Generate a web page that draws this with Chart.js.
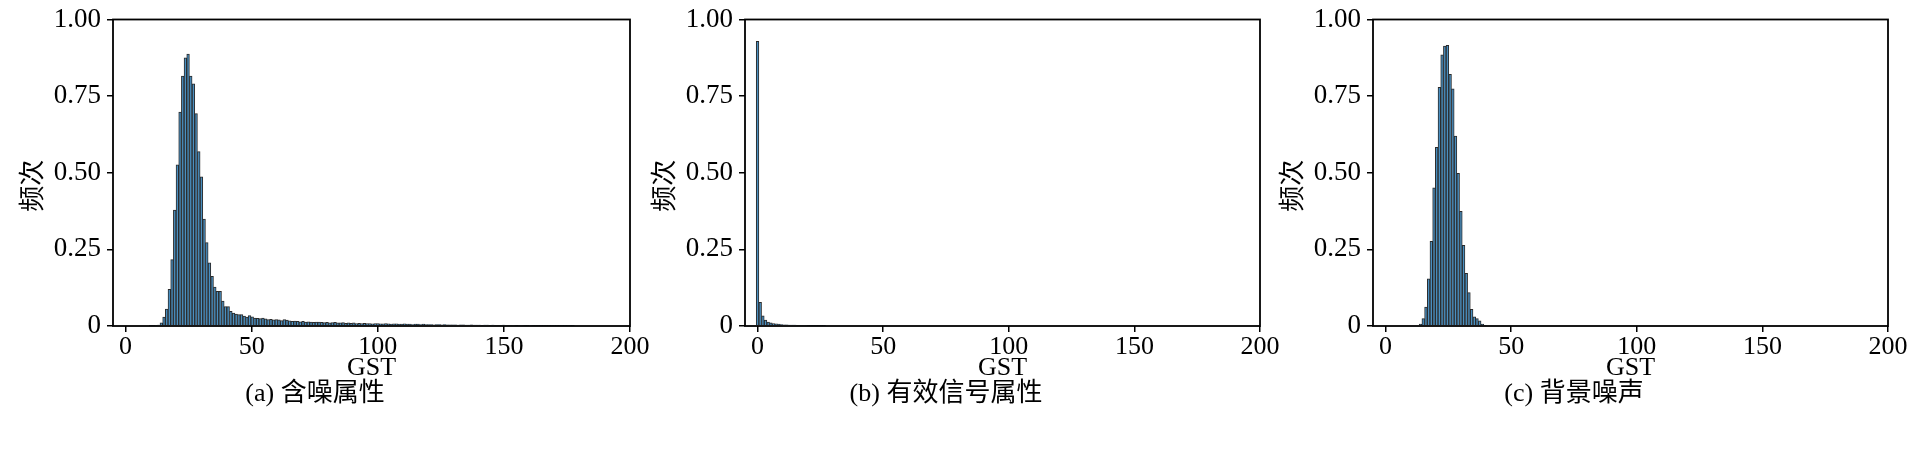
<!DOCTYPE html>
<html>
<head>
<meta charset="utf-8">
<script src="https://cdn.jsdelivr.net/npm/chart.js@4.4.1/dist/chart.umd.min.js"></script>
<style>
  html, body { margin: 0; padding: 0; background: #fff; }
  body { width: 1913px; height: 452px; position: relative; overflow: hidden; }
  canvas { position: absolute; top: 0; }
</style>
</head>
<body>
<canvas id="chartA" width="652" height="452" style="left:0px"></canvas>
<canvas id="chartB" width="650" height="452" style="left:632px"></canvas>
<canvas id="chartC" width="650" height="452" style="left:1260px"></canvas>
<script>
// ===== DATA =====
// tepi kiri bin pertama dan lebar bin (satuan GST)
const binStartA = 9.4;
const binWidthA = 1.06;
const freqA = [
  0.001, 0.001, 0.002, 0.003,
  0.010, 0.029, 0.055, 0.120, 0.217, 0.378, 0.526, 0.698, 0.815, 0.875,
  0.887, 0.815, 0.790, 0.693, 0.569, 0.487, 0.349, 0.272, 0.206, 0.162,
  0.127, 0.113, 0.113, 0.081, 0.063, 0.063, 0.048, 0.042, 0.039, 0.037,
  0.037, 0.032, 0.029, 0.034, 0.030, 0.026,
  0.025, 0.024, 0.026, 0.023, 0.021, 0.022, 0.020, 0.021,
  0.020, 0.018, 0.021, 0.019, 0.017, 0.015, 0.016, 0.015, 0.014, 0.015, 0.013,
  0.014, 0.013, 0.012, 0.013, 0.013, 0.012, 0.011, 0.012, 0.010, 0.011, 0.012, 0.010, 0.010, 0.011, 0.009,
  0.010, 0.009, 0.010, 0.008, 0.009, 0.008, 0.009, 0.008, 0.008, 0.007, 0.008, 0.008, 0.007, 0.007, 0.008, 0.007, 0.006, 0.007, 0.007, 0.006,
  0.006, 0.007, 0.006, 0.006, 0.005, 0.006, 0.006, 0.005, 0.006, 0.005, 0.005, 0.005, 0.004, 0.005, 0.005, 0.004, 0.005, 0.004, 0.004, 0.004,
  0.004, 0.003, 0.004, 0.004, 0.003, 0.003, 0.004, 0.003, 0.003, 0.003, 0.002, 0.003, 0.003, 0.002, 0.003, 0.002, 0.002, 0.002, 0.003, 0.002,
  0.002, 0.002, 0.002, 0.001, 0.002, 0.002, 0.001, 0.001, 0.002, 0.001, 0.001, 0.001, 0.001, 0.001, 0.001, 0.001, 0.001, 0.001, 0.0005, 0.001, 0.0005, 0.0005, 0.0005, 0.0005, 0.0005
];

const binStartB = -0.53;
const binWidthB = 1.06;
const freqB = [
  0.929, 0.077, 0.033, 0.019, 0.013, 0.010, 0.008, 0.007, 0.006, 0.005,
  0.004, 0.004, 0.003, 0.003, 0.003, 0.002, 0.002, 0.002, 0.002, 0.001,
  0.001, 0.001, 0.001, 0.001, 0.0005, 0.0005
];

const binStartC = 13.4;
const binWidthC = 1.07;
const freqC = [
  0.006, 0.024, 0.062, 0.154, 0.276, 0.451, 0.583, 0.779, 0.885, 0.913,
  0.916, 0.821, 0.774, 0.620, 0.498, 0.374, 0.263, 0.172, 0.109, 0.054,
  0.030, 0.024, 0.017, 0.006, 0.002
];

const xTicks = [0, 50, 100, 150, 200];
const yTicks = [0, 0.25, 0.5, 0.75, 1];
const yTickLabels = ['0', '0.25', '0.50', '0.75', '1.00'];
const xTitle = 'GST';
const yTitle = '频次';
const captions = ['(a) 含噪属性', '(b) 有效信号属性', '(c) 背景噪声'];

// ===== GAYA =====
const FONT = '"Liberation Serif", "Noto Sans CJK SC", serif';
const barFill = '#4a8fc0';
const barEdge = '#2a2a2a';

// bingkai penuh di sekeliling area plot
const framePlugin = {
  id: 'frame',
  afterDraw(chart) {
    const a = chart.chartArea;
    const ctx = chart.ctx;
    ctx.save();
    ctx.strokeStyle = '#000';
    ctx.lineWidth = 1.8;
    ctx.strokeRect(a.left, a.top, a.right - a.left, a.bottom - a.top);
    ctx.restore();
  }
};

function toPoints(start, width, values) {
  return values.map((v, i) => ({ x: start + width * (i + 0.5), y: v }));
}

function makeHist(id, start, width, values, caption) {
  const ctx = document.getElementById(id).getContext('2d');
  return new Chart(ctx, {
    type: 'bar',
    data: {
      datasets: [{
        data: toPoints(start, width, values),
        backgroundColor: barFill,
        borderColor: barEdge,
        borderWidth: 1,
        barPercentage: 1,
        categoryPercentage: 1
      }]
    },
    options: {
      responsive: false,
      animation: false,
      devicePixelRatio: 1,
      layout: {
        autoPadding: false,
        padding: { left: 0, right: 22, top: 13, bottom: 45 }
      },
      plugins: {
        legend: { display: false },
        tooltip: { enabled: false },
        title: {
          display: true,
          position: 'bottom',
          text: caption,
          color: '#000',
          font: { family: FONT, size: 26, weight: 'normal', lineHeight: 1 },
          padding: { top: 0, bottom: 0 }
        }
      },
      scales: {
        x: {
          type: 'linear',
          min: -5,
          max: 200,
          offset: false,
          afterBuildTicks: s => { s.ticks = xTicks.map(v => ({ value: v })); },
          afterFit: s => { s.height = 55; },
          grid: { offset: false, drawOnChartArea: false, drawTicks: true, tickLength: 6, color: '#000', lineWidth: 1.5 },
          border: { display: false },
          ticks: {
            color: '#000',
            padding: 2,
            maxRotation: 0,
            font: { family: FONT, size: 26, lineHeight: 1 },
            callback: v => String(v)
          },
          title: {
            display: true,
            text: xTitle,
            color: '#000',
            font: { family: FONT, size: 26, lineHeight: 1 },
            padding: { top: 0, bottom: 0 }
          }
        },
        y: {
          min: 0,
          max: 1,
          afterBuildTicks: s => { s.ticks = yTicks.map(v => ({ value: v })); },
          afterFit: s => { s.width = 113; },
          grid: { offset: false, drawOnChartArea: false, drawTicks: true, tickLength: 6, color: '#000', lineWidth: 1.5 },
          border: { display: false },
          ticks: {
            color: '#000',
            padding: 6,
            font: { family: FONT, size: 27, lineHeight: 1 },
            callback: (v, i) => yTickLabels[i]
          },
          title: {
            display: true,
            // spasi em di belakang menggeser label sedikit ke bawah seperti aslinya
            text: yTitle + '\u2003',
            color: '#000',
            font: { family: FONT, size: 26, lineHeight: 1 },
            padding: { top: 21, bottom: 0 }
          }
        }
      }
    },
    plugins: [framePlugin]
  });
}

makeHist('chartA', binStartA, binWidthA, freqA, captions[0]);
makeHist('chartB', binStartB, binWidthB, freqB, captions[1]);
makeHist('chartC', binStartC, binWidthC, freqC, captions[2]);
</script>
</body>
</html>
